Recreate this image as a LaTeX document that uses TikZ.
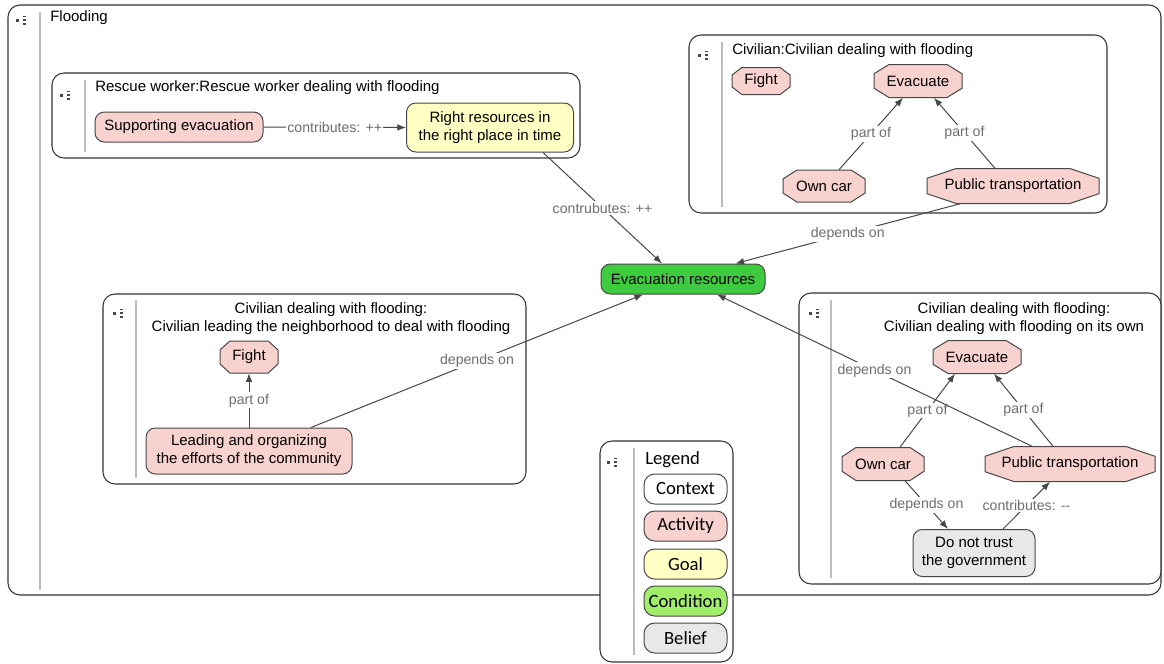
\documentclass[tikz,border=0pt]{standalone}
\usepackage{fontspec}
\setmainfont{Liberation Sans}
\newfontfamily\legfont{Carlito}
\usetikzlibrary{calc,arrows.meta}
\definecolor{actfill}{HTML}{F8D2CE}
\definecolor{goalfill}{HTML}{FFFFC4}
\definecolor{condfill}{HTML}{3FCB3F}
\definecolor{condlight}{HTML}{A2EE6A}
\definecolor{belfill}{HTML}{E8E8E8}
\definecolor{edgecol}{HTML}{474747}
\definecolor{labcol}{HTML}{6E6E6E}
\definecolor{boxcol}{HTML}{333333}
\definecolor{divcol}{HTML}{BDBDBD}
\tikzset{
  mainfont/.style={font=\fontsize{11.25}{13.5}\selectfont},
  ctxbox/.style={draw=boxcol, line width=0.8pt, fill=white, rounded corners=9pt},
  divline/.style={draw=divcol, line width=0.9pt},
  rnode/.style={mainfont, draw=edgecol, line width=0.75pt, rounded corners=7pt, inner sep=2pt, align=center, text=black},
  actnode/.style={rnode, fill=actfill},
  goalnode/.style={rnode, fill=goalfill},
  condnode/.style={rnode, fill=condfill},
  belnode/.style={rnode, fill=belfill},
  octstyle/.style={draw=edgecol, line width=0.75pt, fill=actfill},
  octtext/.style={mainfont, draw=none, inner sep=0pt, text=black},
  conn/.style={draw=edgecol, line width=0.75pt, -{Latex[length=6.5pt,width=5pt]}},
  elabel/.style={font=\fontsize{10.6}{12}\selectfont, text=labcol, fill=white, inner sep=1pt},
  titletext/.style={mainfont, text=black, inner sep=0pt},
  legitem/.style={font=\legfont\fontsize{14}{16}\selectfont, draw=edgecol, line width=0.75pt, rounded corners=8pt, minimum width=83*0.75pt, minimum height=30*0.75pt, inner sep=0pt, text=black}
}
\newcommand\boxicon[2]{%
  \fill[edgecol] (#1-6,#2-1.5) rectangle (#1-3,#2+1.5);
  \fill[edgecol] (#1+1,#2-4.5) rectangle (#1+4,#2-3.3);
  \fill[edgecol] (#1+1,#2-0.6) rectangle (#1+4,#2+0.6);
  \fill[edgecol] (#1+1,#2+3.3) rectangle (#1+4,#2+4.5);
}
\newcommand\octnode[6]{%
  \pgfmathsetmacro\oxa{#2-#4/2}\pgfmathsetmacro\oxb{#2+#4/2}%
  \pgfmathsetmacro\oya{#3-#5/2}\pgfmathsetmacro\oyb{#3+#5/2}%
  \pgfmathsetmacro\ocx{0.17*#4}\pgfmathsetmacro\ocy{0.28*#5}%
  \draw[octstyle] (\oxa+\ocx,\oya) -- (\oxb-\ocx,\oya) -- (\oxb,\oya+\ocy) -- (\oxb,\oyb-\ocy) -- (\oxb-\ocx,\oyb) -- (\oxa+\ocx,\oyb) -- (\oxa,\oyb-\ocy) -- (\oxa,\oya+\ocy) -- cycle;
  \node[octtext, minimum width=#4*0.75pt, minimum height=#5*0.75pt] (#1) at (#2,#3) {#6};
}
\begin{document}
\begin{tikzpicture}[x=0.75pt,y=-0.75pt]
\useasboundingbox[fill=white] (0,0) rectangle (1164,664);

% outer context
\draw[ctxbox] (8,5) rectangle (1161,595);
\draw[divline] (40,12) -- (40,590);
\boxicon{22}{20}
\node[titletext, anchor=west] (tflood) at (50,18) {Flooding};

% rescue worker context
\draw[ctxbox] (52,73) rectangle (580,158);
\draw[divline] (85,80) -- (85,152);
\boxicon{66}{95}
\node[titletext, anchor=west] (tresc) at (95,88) {Rescue worker:Rescue worker dealing with flooding};

% civilian top-right context
\draw[ctxbox] (689,35) rectangle (1107,213);
\draw[divline] (722,42) -- (722,207);
\boxicon{704}{55}
\node[titletext, anchor=west] (tciv) at (732,51) {Civilian:Civilian dealing with flooding};

% bottom-left context
\draw[ctxbox] (103,294) rectangle (526,484);
\draw[divline] (136,300) -- (136,478);
\boxicon{119}{313}
\node[titletext, align=center] (tlead) at (331,319) {Civilian dealing with flooding:\\Civilian leading the neighborhood to deal with flooding};

% bottom-right context
\draw[ctxbox] (799,293) rectangle (1161,584);
\draw[divline] (831,300) -- (831,578);
\boxicon{815}{313}
\node[titletext, align=center] (town) at (1014,319) {Civilian dealing with flooding:\\Civilian dealing with flooding on its own};

% nodes
\node[actnode, minimum width=168*0.75pt, minimum height=30*0.75pt] (SE) at (179,127) {Supporting evacuation};
\node[goalnode, minimum width=167*0.75pt, minimum height=49*0.75pt] (RR) at (490,127.5) {Right resources in\\the right place in time};

\octnode{FightA}{761}{81}{58}{27}{Fight}
\octnode{EvacA}{918}{81}{88}{33}{Evacuate}
\octnode{OwnA}{824}{186}{82}{32}{Own car}
\octnode{PTA}{1013}{186}{172}{35}{Public transportation}

\node[condnode, minimum width=164*0.75pt, minimum height=30*0.75pt] (ER) at (683,279) {Evacuation resources};

\octnode{FightB}{249}{357}{58}{32}{Fight}
\node[actnode, minimum width=206*0.75pt, minimum height=46*0.75pt] (Lead) at (249,451) {Leading and organizing\\the efforts of the community};

\octnode{EvacB}{977}{357}{88}{33}{Evacuate}
\octnode{OwnB}{883}{464}{82}{33}{Own car}
\octnode{PTB}{1070}{464}{170}{35}{Public transportation}
\node[belnode, minimum width=122*0.75pt, minimum height=47*0.75pt] (DNT) at (974,553) {Do not trust\\the government};

% connectors
\draw[conn] (SE.east) -- node[elabel] {contributes: ++} (RR.west);
\draw[conn] ($(RR.south)+(53,0)$) -- node[elabel] {contrubutes: ++} ($(ER.north)+(-21,0)$);
\draw[conn] ($(PTA.south)+(-53,0)$) -- node[elabel] {depends on} ($(ER.north east)+(-30,0)$);
\draw[conn] ($(Lead.north)+(62,0)$) -- node[elabel] {depends on} ($(ER.south)+(-40,0)$);
\draw[conn] ($(OwnA.north)+(15,0)$) -- node[elabel] {part of} ($(EvacA.south)+(-15,0)$);
\draw[conn] ($(PTA.north)+(-18,0)$) -- node[elabel] {part of} ($(EvacA.south)+(16,0)$);
\draw[conn] (Lead.north) -- node[elabel] {part of} (FightB.south);
\draw[conn] ($(OwnB.north)+(17,0)$) -- node[elabel] {part of} ($(EvacB.south)+(-22,0)$);
\draw[conn] ($(PTB.north)+(-17,0)$) -- node[elabel] {part of} ($(EvacB.south)+(17,0)$);
\draw[conn] ($(OwnB.south)+(22,0)$) -- node[elabel] {depends on} ($(DNT.north)+(-26,0)$);
\draw[conn] ($(DNT.north)+(29,0)$) -- node[elabel] {contributes: -{}-} ($(PTB.south)+(-20,0)$);
\draw[conn] ($(PTB.north)+(-38,0)$) -- node[elabel] {depends on} ($(ER.south)+(34,0)$);

% legend
\draw[ctxbox] (600,441) rectangle (733,662);
\draw[divline] (634,448) -- (634,655);
\boxicon{613}{462}
\node[anchor=west, font=\legfont\fontsize{14}{16}\selectfont, inner sep=0pt] (tleg) at (645,460) {Legend};
\node[legitem, fill=white] (LCtx) at (685.5,489) {Context};
\node[legitem, fill=actfill] (LAct) at (685.5,526) {Activity};
\node[legitem, fill=goalfill] (LGoal) at (685.5,564) {Goal};
\node[legitem, fill=condlight] (LCond) at (685.5,601) {Condition};
\node[legitem, fill=belfill] (LBel) at (685.5,638) {Belief};
\end{tikzpicture}
\end{document}
